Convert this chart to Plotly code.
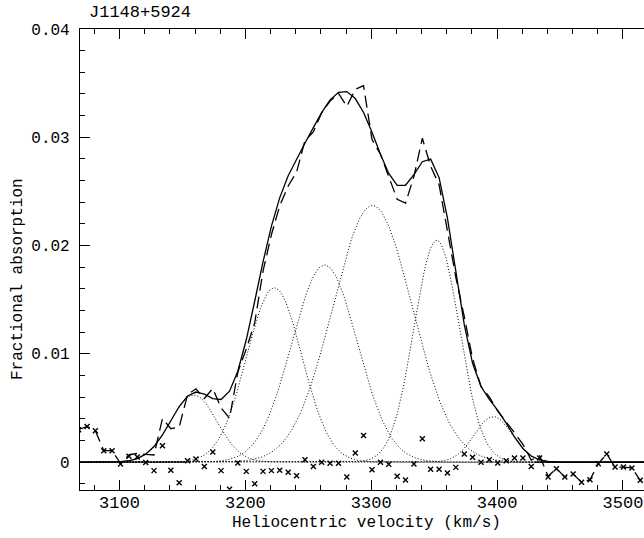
import numpy as np
import plotly.graph_objects as go

# ---- data ----
# channel velocities (km/s)
velocity = [3067.5, 3074.2, 3080.8, 3087.5, 3094.1, 3100.8, 3107.5, 3114.1, 3120.8, 3127.4,
            3134.1, 3140.8, 3147.4, 3154.1, 3160.7, 3167.4, 3174.1, 3180.7, 3187.4, 3194.0,
            3200.7, 3207.4, 3214.0, 3220.7, 3227.3, 3234.0, 3240.7, 3247.3, 3254.0, 3260.6,
            3267.3, 3274.0, 3280.6, 3287.3, 3293.9, 3300.6, 3307.3, 3313.9, 3320.6, 3327.2,
            3333.9, 3340.6, 3347.2, 3353.9, 3360.5, 3367.2, 3373.9, 3380.5, 3387.2, 3393.8,
            3400.5, 3407.2, 3413.8, 3420.5, 3427.1, 3433.8, 3440.5, 3447.1, 3453.8, 3460.4,
            3467.1, 3473.8, 3480.4, 3487.1, 3493.7, 3500.4, 3507.1, 3513.7, 3520.4]

# residuals (data - fit), crosses
residual = [0.0030, 0.0033, 0.0029, 0.00106, 0.00106, -0.00017, 0.00054, 0.00048, -0.00002, -0.00078,
            0.00152, -0.00075, -0.0019, 0.00014, 0.0003, -0.0004, 0.00094, -0.00078, -0.0025, -0.00008,
            -0.00085, -0.0020, -0.00085, -0.00078, -0.00075, -0.00094, -0.00125, 0.00023, -0.00039, 0.0000,
            -0.0001, -0.0001, -0.00137, 0.00085, 0.00247, -0.00069, 0.0000, -0.0002, -0.0013, -0.00165,
            -0.00017, 0.00217, -0.00066, -0.00066, -0.0010, -0.00048, 0.00075, 0.00045, 0.0000, 0.00023,
            -0.00008, 0.00014, 0.00038, 0.00038, -0.00039, 0.00038, -0.00137, -0.0006, -0.00137, -0.0011,
            -0.00186, -0.00162, -0.00014, 0.00075, -0.00045, -0.00045, -0.00054, -0.00168, -0.0022]

# Gaussian components of the fit
comp_centre = [3159, 3223, 3263, 3301, 3352, 3397]
comp_peak = [0.0062, 0.0161, 0.0182, 0.0237, 0.0205, 0.0042]
comp_sigma = [18.5, 22.0, 26.0, 31.5, 18.0, 15.0]

# velocity ranges where only the zero baseline is drawn (outside fit window)
baseline_ranges = [(3060.0, 3153.0), (3430.0, 3525.0)]

title_text = "J1148+5924"
x_title = "Heliocentric velocity (km/s)"
y_title = "Fractional absorption"
x_ticks = [3100, 3200, 3300, 3400, 3500]
y_ticks = [0, 0.01, 0.02, 0.03, 0.04]
y_ticktext = ["0", "0.01", "0.02", "0.03", "0.04"]

# ---- derived curves ----
v = np.array(velocity)
res = np.array(residual)


def gauss(x, a, c, s):
    return a * np.exp(-0.5 * ((x - c) / s) ** 2)


fit = np.zeros_like(v)
for a, c, s in zip(comp_peak, comp_centre, comp_sigma):
    fit += gauss(v, a, c, s)
spectrum = fit + res

vfine = np.arange(velocity[0], velocity[-1] + 0.5, 1.5)

FONT = "Liberation Mono"
fig = go.Figure()

for a, c, s in zip(comp_peak, comp_centre, comp_sigma):
    fig.add_trace(go.Scatter(x=vfine, y=gauss(vfine, a, c, s), mode="lines",
                             line=dict(color="black", width=1, dash="1px,2px"),
                             showlegend=False, hoverinfo="skip"))

for lo, hi in baseline_ranges:
    fig.add_trace(go.Scatter(x=[lo, hi], y=[0, 0], mode="lines",
                             line=dict(color="black", width=1.2),
                             showlegend=False, hoverinfo="skip"))

fig.add_trace(go.Scatter(x=v, y=fit, mode="lines",
                         line=dict(color="black", width=1.3),
                         showlegend=False))
fig.add_trace(go.Scatter(x=v, y=spectrum, mode="lines",
                         line=dict(color="black", width=1.3, dash="12px,6px"),
                         showlegend=False))
fig.add_trace(go.Scatter(x=v, y=res, mode="markers",
                         marker=dict(symbol="x-thin", size=5, color="black",
                                     line=dict(color="black", width=1.4)),
                         showlegend=False))

W, H = 644, 538
ml, mr, mt, mb = 80, 0, 29, 48
pw, ph = W - ml - mr, H - mt - mb

fig.update_layout(
    width=W, height=H,
    margin=dict(l=ml, r=mr, t=mt, b=mb, pad=0),
    paper_bgcolor="white", plot_bgcolor="white",
    font=dict(family=FONT, size=16, color="black"),
    showlegend=False,
    xaxis=dict(range=[3068.6, 3516.7], tickvals=x_ticks, ticks="inside", ticklen=10,
               tickwidth=1.2, tickcolor="black", showline=True, linecolor="black",
               linewidth=1.2, mirror="allticks", showgrid=False, zeroline=False,
               minor=dict(ticks="inside", ticklen=5, dtick=20, tickcolor="black",
                          tickwidth=1.2, showgrid=False),
               tickfont=dict(family=FONT, size=17, color="black"),
               ticklabelstandoff=-4),
    yaxis=dict(range=[-0.00257, 0.04], tickvals=y_ticks, ticktext=y_ticktext,
               ticks="inside", ticklen=10, tickwidth=1.2, tickcolor="black",
               showline=True, linecolor="black", linewidth=1.2, mirror=False,
               showgrid=False, zeroline=False,
               minor=dict(ticks="inside", ticklen=5, dtick=0.002, tickcolor="black",
                          tickwidth=1.2, showgrid=False),
               tickfont=dict(family=FONT, size=16, color="black"),
               ticklabelstandoff=6),
    annotations=[
        dict(text=title_text, xref="paper", yref="paper",
             x=(87 - ml) / pw, y=1 + (mt - 13) / ph, xanchor="left", yanchor="middle",
             showarrow=False, font=dict(family=FONT, size=17, color="black")),
        dict(text=x_title, xref="paper", yref="paper",
             x=(366 - ml) / pw, y=-(523 - (mt + ph)) / ph, xanchor="center", yanchor="middle",
             showarrow=False, font=dict(family=FONT, size=16, color="black")),
        dict(text=y_title, xref="paper", yref="paper", textangle=-90,
             x=-(ml - 18) / pw, y=1 - (279 - mt) / ph, xanchor="center", yanchor="middle",
             showarrow=False, font=dict(family=FONT, size=16, color="black")),
    ],
)

fig.write_html("out.html")
